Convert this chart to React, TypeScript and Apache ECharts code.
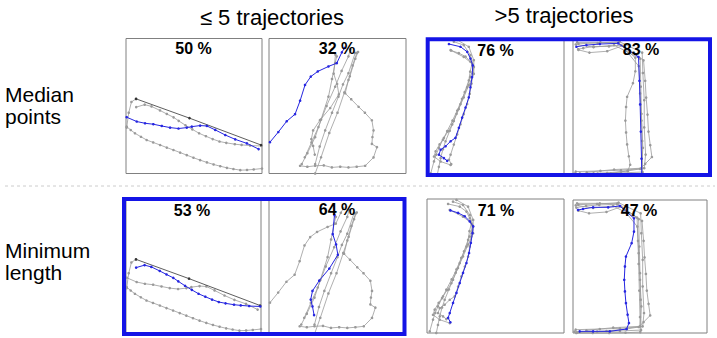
import React, { useEffect, useRef } from "react";
import * as echarts from "echarts";

type P = [number, number];

// ---- Titles / labels ----
const COLUMN_TITLES = ["≤ 5 trajectories", ">5 trajectories"];
const ROW_TITLES = ["Median\npoints", "Minimum\nlength"];
const PANEL_LABELS = ["50 %", "32 %", "76 %", "83 %", "53 %", "64 %", "71 %", "47 %"];

// ---- Trajectories (percent of panel width / height, y from top) ----
// group 1 (first column)
const L_T1: P[] = [[7.4, 44.7], [46.7, 59], [99.3, 78.9]];
const L_T2: P[] = [[7.5, 50.8], [13.75, 49], [18.75, 50.3], [25, 53.3], [30, 55.9], [35, 58.4], [38.75, 61], [43.75, 64.3], [48.75, 67.3], [53.75, 70.2], [58.75, 72.4], [63.75, 74.5], [68.75, 76.3], [73.75, 77.3], [80, 78.3], [85, 78.8], [91.25, 79.3], [99.5, 79.6]];
const L_T3: P[] = [[0.5, 58.3], [7.9, 61.5], [14, 62.8], [20.1, 63.5], [26.3, 64.8], [32.4, 66], [38.6, 66.7], [44.7, 66], [48.4, 65.3], [54.5, 64.5], [59.5, 64.8], [65.6, 67.7], [73, 71.5], [80.3, 74.7], [88.9, 77.7], [97.5, 81.9]];
const L_T4: P[] = [[0.5, 65.3], [3.5, 67.8], [6.6, 70.2], [11, 72.8], [15.2, 75.2], [20, 77], [25.1, 78.9], [30, 80.8], [34.9, 82.6], [39.8, 84.5], [44.7, 86.4], [49.6, 88.3], [54.5, 90.1], [59.5, 91.8], [64.4, 93.3], [69.3, 94.6], [74.2, 95.8], [79, 96.7], [84, 97.5], [89, 97.4], [93.9, 97], [100, 96.3]];
const L_T5: P[] = [[0.5, 66], [2, 55], [4, 47], [7.4, 44.7]];

// group 2 (second column)
const M_T1: P[] = [[0.7, 76.8], [6.8, 69.3], [12.9, 61.3], [19, 56.1], [22.7, 46.1], [26.3, 34.4], [30.5, 28.2], [35.6, 24.4], [43.4, 20.7], [49.5, 18.2], [53.2, 10.2], [55.1, 7]];
const M_T2: P[] = [[48.5, 12], [47.2, 26], [49.7, 33.7], [51, 41.3], [44.7, 51.5], [37.2, 60.5], [32.2, 68.1], [30.9, 74.5], [32.2, 79.6], [33.4, 86]];
const M_T3: P[] = [[23.9, 93], [28, 85], [33.7, 73.1], [38, 60], [43.4, 43.1], [46, 30], [48.3, 18.2], [49.5, 13.2]];
const M_T4: P[] = [[26.1, 88], [31, 77], [36.1, 65.6], [42, 50], [48.3, 35.7], [53, 24], [58, 13.2], [59.3, 8.2]];
const M_T5: P[] = [[33.7, 93], [37, 80], [41, 68.1], [46, 55], [50.7, 43.1], [54, 34], [58, 25.7], [62.9, 10.7]];
const M_T6: P[] = [[64.1, 10.7], [61, 20], [58, 30.7], [55.6, 40.6], [60, 45], [65.4, 50.6], [70, 55], [75.1, 60.6], [76.3, 68.1], [75.5, 73], [75.1, 78.1], [78.8, 80.5], [76.3, 88.1], [70.2, 94.3], [64, 95], [58, 95.5], [52, 95], [45.9, 95.5], [40, 94], [33.7, 94.3], [28, 95], [22.7, 94.3]];
const M_T7: P[] = [[33.7, 100], [38, 88], [44, 70], [50, 55], [55, 40], [59, 28], [63, 15], [65, 10]];

// group 3 (third column)
const R_T1: P[] = [[15.4, 3.7], [23.9, 5.7], [28.8, 9.4], [31.2, 14.4], [32.9, 19.4], [32.4, 28], [31.2, 35.5], [30, 43], [27.6, 50.4], [25.1, 57.8], [22.7, 65.3], [20.2, 72.7], [16.6, 75.2], [12.9, 78.9], [9.3, 81.4], [8, 85.1], [11.7, 87.6], [14.1, 89.6]];
const R_T2: P[] = [[17.1, 8.5], [22.7, 10.4], [27.6, 12.9], [31.2, 16.7], [33.7, 20.4], [33.2, 25.4], [32, 32.8], [30.7, 40.3], [28.8, 47.8], [26.3, 55.2], [23.9, 62.7], [21.5, 70.1], [19, 77.6], [16.6, 85.1], [15.4, 88.8], [17.1, 92]];
const R_T3: P[] = [[19, 2], [26.3, 4.5], [31.2, 11.9], [33.7, 20.6], [31, 28], [28.8, 35.5], [25, 44], [21.5, 52.6], [18, 60], [14.1, 67.7], [11, 74], [8, 80.1], [6, 85], [4.4, 90], [2, 98.8]];
const R_T4: P[] = [[16.6, 8.2], [26.3, 13.2], [32.4, 18.1], [31, 24], [30, 30.5], [27, 39], [23.9, 47.9], [21, 55], [17.8, 62.8], [14.7, 68], [11.7, 72.7], [8.5, 77.5], [5.6, 82.6], [4.4, 86.4], [9.3, 90.1], [16.6, 92.6]];
const R_T5: P[] = [[21.5, 0.7], [30, 5.7], [33.7, 15.6], [33.7, 25.6], [30, 34], [26.3, 42.9], [22.6, 51.5], [19, 60.3], [16, 67.5], [12.9, 75.2], [11, 81], [9.3, 87.6], [8, 94], [6.8, 100]];

// group 4 (fourth column)
const D_T1: P[] = [[2.5, 5.7], [9.8, 4.5], [19.6, 3.7], [33, 3.2], [47.8, 13.2], [48.5, 30.7], [49, 48.1], [49.5, 68.1], [50, 88], [50.2, 99.3], [39.2, 99.8], [27, 100], [14.7, 100], [2.5, 100]];
const D_T2: P[] = [[3.75, 7.5], [7.5, 6.75], [15, 5.5], [26.25, 5.5], [35, 4.5], [45.5, 13.75], [45.5, 23.75], [43.75, 32.5], [39.5, 42.5], [38.75, 50], [38.25, 60], [38.75, 68.75], [39.5, 77.5], [40.75, 86.25], [41.75, 92.5], [40, 97], [27.5, 98.75], [15, 98.75], [5, 98.75]];
const D_T3: P[] = [[3, 2.5], [20, 2.5], [33, 2.8], [51.5, 15.7], [52.7, 30.7], [53.4, 43.1], [54.4, 55.6], [55.1, 68.1], [56.4, 78.1], [57.6, 86.8], [52.7, 91.8], [49, 95.5], [35, 96.5], [20, 97], [2, 97.5]];
const D_T4: P[] = [[2, 4], [15, 6], [30, 4.5], [49, 14.4], [49.5, 35], [50, 55], [50.5, 75], [50.8, 97.8], [35, 98.5], [18, 99], [1, 99]];
const D_T5: P[] = [[4, 8], [12, 10], [25, 9], [36, 5], [48, 20], [49, 40], [50, 60], [51, 80], [50, 95], [30, 96], [10, 98]];
const D_T6: P[] = [[4, 3.5], [18, 3], [34, 2], [50.5, 10], [51, 25], [52, 45], [52, 65], [53, 85], [52, 95], [40, 97], [25, 98.5], [3, 99.5]];

// ---- Panel layout ----
const PANELS = [
  { rect: [126, 38.5, 136, 135], label: [193.5, 48.5], blue: L_T3, dark: [L_T1], gray: [L_T2, L_T4, L_T5] },
  { rect: [269, 38.5, 137, 135], label: [337, 48], blue: M_T1, dark: [], gray: [M_T2, M_T3, M_T4, M_T5, M_T6, M_T7] },
  { rect: [428, 39, 136, 136], label: [495.5, 50.5], blue: R_T1, dark: [], gray: [R_T2, R_T3, R_T4, R_T5] },
  { rect: [573, 39, 137, 136], label: [641, 49], blue: D_T1, dark: [], gray: [D_T2, D_T3, D_T4, D_T5, D_T6] },
  { rect: [126, 199, 135, 135], label: [192, 210], blue: L_T2, dark: [L_T1], gray: [L_T3, L_T4, L_T5] },
  { rect: [269, 199, 135, 135], label: [337, 209], blue: M_T2, dark: [], gray: [M_T1, M_T3, M_T4, M_T5, M_T6, M_T7] },
  { rect: [427, 199, 137, 134], label: [496, 210.5], blue: R_T2, dark: [], gray: [R_T1, R_T3, R_T4, R_T5] },
  { rect: [573, 200, 134, 133], label: [639, 210.5], blue: D_T2, dark: [], gray: [D_T1, D_T3, D_T4, D_T5, D_T6] },
];

const GRAY = "#9a9a9a";
const DARK = "#333333";
const BLUE = "#2626e0";
const FRAME = "#1414e6";

export default function App() {
  const ref = useRef<HTMLDivElement>(null);
  useEffect(() => {
    const chart = echarts.init(ref.current!, null, { renderer: "svg" });
    const grids: any[] = [];
    const xAxes: any[] = [];
    const yAxes: any[] = [];
    const series: any[] = [];
    const mk = (i: number, data: P[], color: string, z: number, w: number) => ({
      type: "line",
      xAxisIndex: i,
      yAxisIndex: i,
      data,
      symbol: "circle",
      symbolSize: 2.6,
      showSymbol: true,
      clip: false,
      silent: true,
      z,
      lineStyle: { color, width: w },
      itemStyle: { color },
    });
    PANELS.forEach((p, i) => {
      grids.push({
        left: p.rect[0], top: p.rect[1], width: p.rect[2], height: p.rect[3],
        show: true, borderColor: "#808080", borderWidth: 1, backgroundColor: "transparent",
      });
      xAxes.push({ gridIndex: i, type: "value", min: 0, max: 100, show: false });
      yAxes.push({ gridIndex: i, type: "value", min: 0, max: 100, inverse: true, show: false });
      p.gray.forEach((t) => series.push(mk(i, t, GRAY, 2, 0.8)));
      p.dark.forEach((t) => series.push(mk(i, t, DARK, 3, 0.8)));
      series.push(mk(i, p.blue, BLUE, 4, 1));
    });

    const graphic: any[] = [
      {
        type: "text", x: 272, y: 17, z: 20,
        style: { text: COLUMN_TITLES[0], font: "22px 'Liberation Sans', Arial, sans-serif", fill: "#000", textAlign: "center", textVerticalAlign: "middle" },
      },
      {
        type: "text", x: 564, y: 15, z: 20,
        style: { text: COLUMN_TITLES[1], font: "22px 'Liberation Sans', Arial, sans-serif", fill: "#000", textAlign: "center", textVerticalAlign: "middle" },
      },
      {
        type: "text", x: 5, y: 105, z: 20,
        style: { text: ROW_TITLES[0], font: "21px 'Liberation Sans', Arial, sans-serif", lineHeight: 22, fill: "#000", textAlign: "left", textVerticalAlign: "middle" },
      },
      {
        type: "text", x: 5, y: 261, z: 20,
        style: { text: ROW_TITLES[1], font: "21px 'Liberation Sans', Arial, sans-serif", lineHeight: 22, fill: "#000", textAlign: "left", textVerticalAlign: "middle" },
      },
      {
        type: "line", z: 20,
        shape: { x1: 5, y1: 186, x2: 715, y2: 186 },
        style: { stroke: "#cccccc", lineWidth: 1, lineDash: [3, 3] },
      },
      {
        type: "rect", z: 30,
        shape: { x: 427.7, y: 39.3, width: 282.3, height: 135.7 },
        style: { fill: "none", stroke: FRAME, lineWidth: 4 },
      },
      {
        type: "rect", z: 30,
        shape: { x: 124, y: 199, width: 280.5, height: 135 },
        style: { fill: "none", stroke: FRAME, lineWidth: 4 },
      },
    ];
    PANELS.forEach((p, i) => {
      graphic.push({
        type: "text", x: p.label[0], y: p.label[1], z: 25,
        style: { text: PANEL_LABELS[i], font: "bold 16px 'Liberation Sans', Arial, sans-serif", fill: "#000", textAlign: "center", textVerticalAlign: "middle" },
      });
    });

    chart.setOption({
      animation: false,
      backgroundColor: "#ffffff",
      grid: grids,
      xAxis: xAxes,
      yAxis: yAxes,
      series,
      graphic,
    });
    return () => chart.dispose();
  }, []);
  return <div ref={ref} style={{ position: "absolute", left: 0, top: 0, width: 717, height: 338 }} />;
}
